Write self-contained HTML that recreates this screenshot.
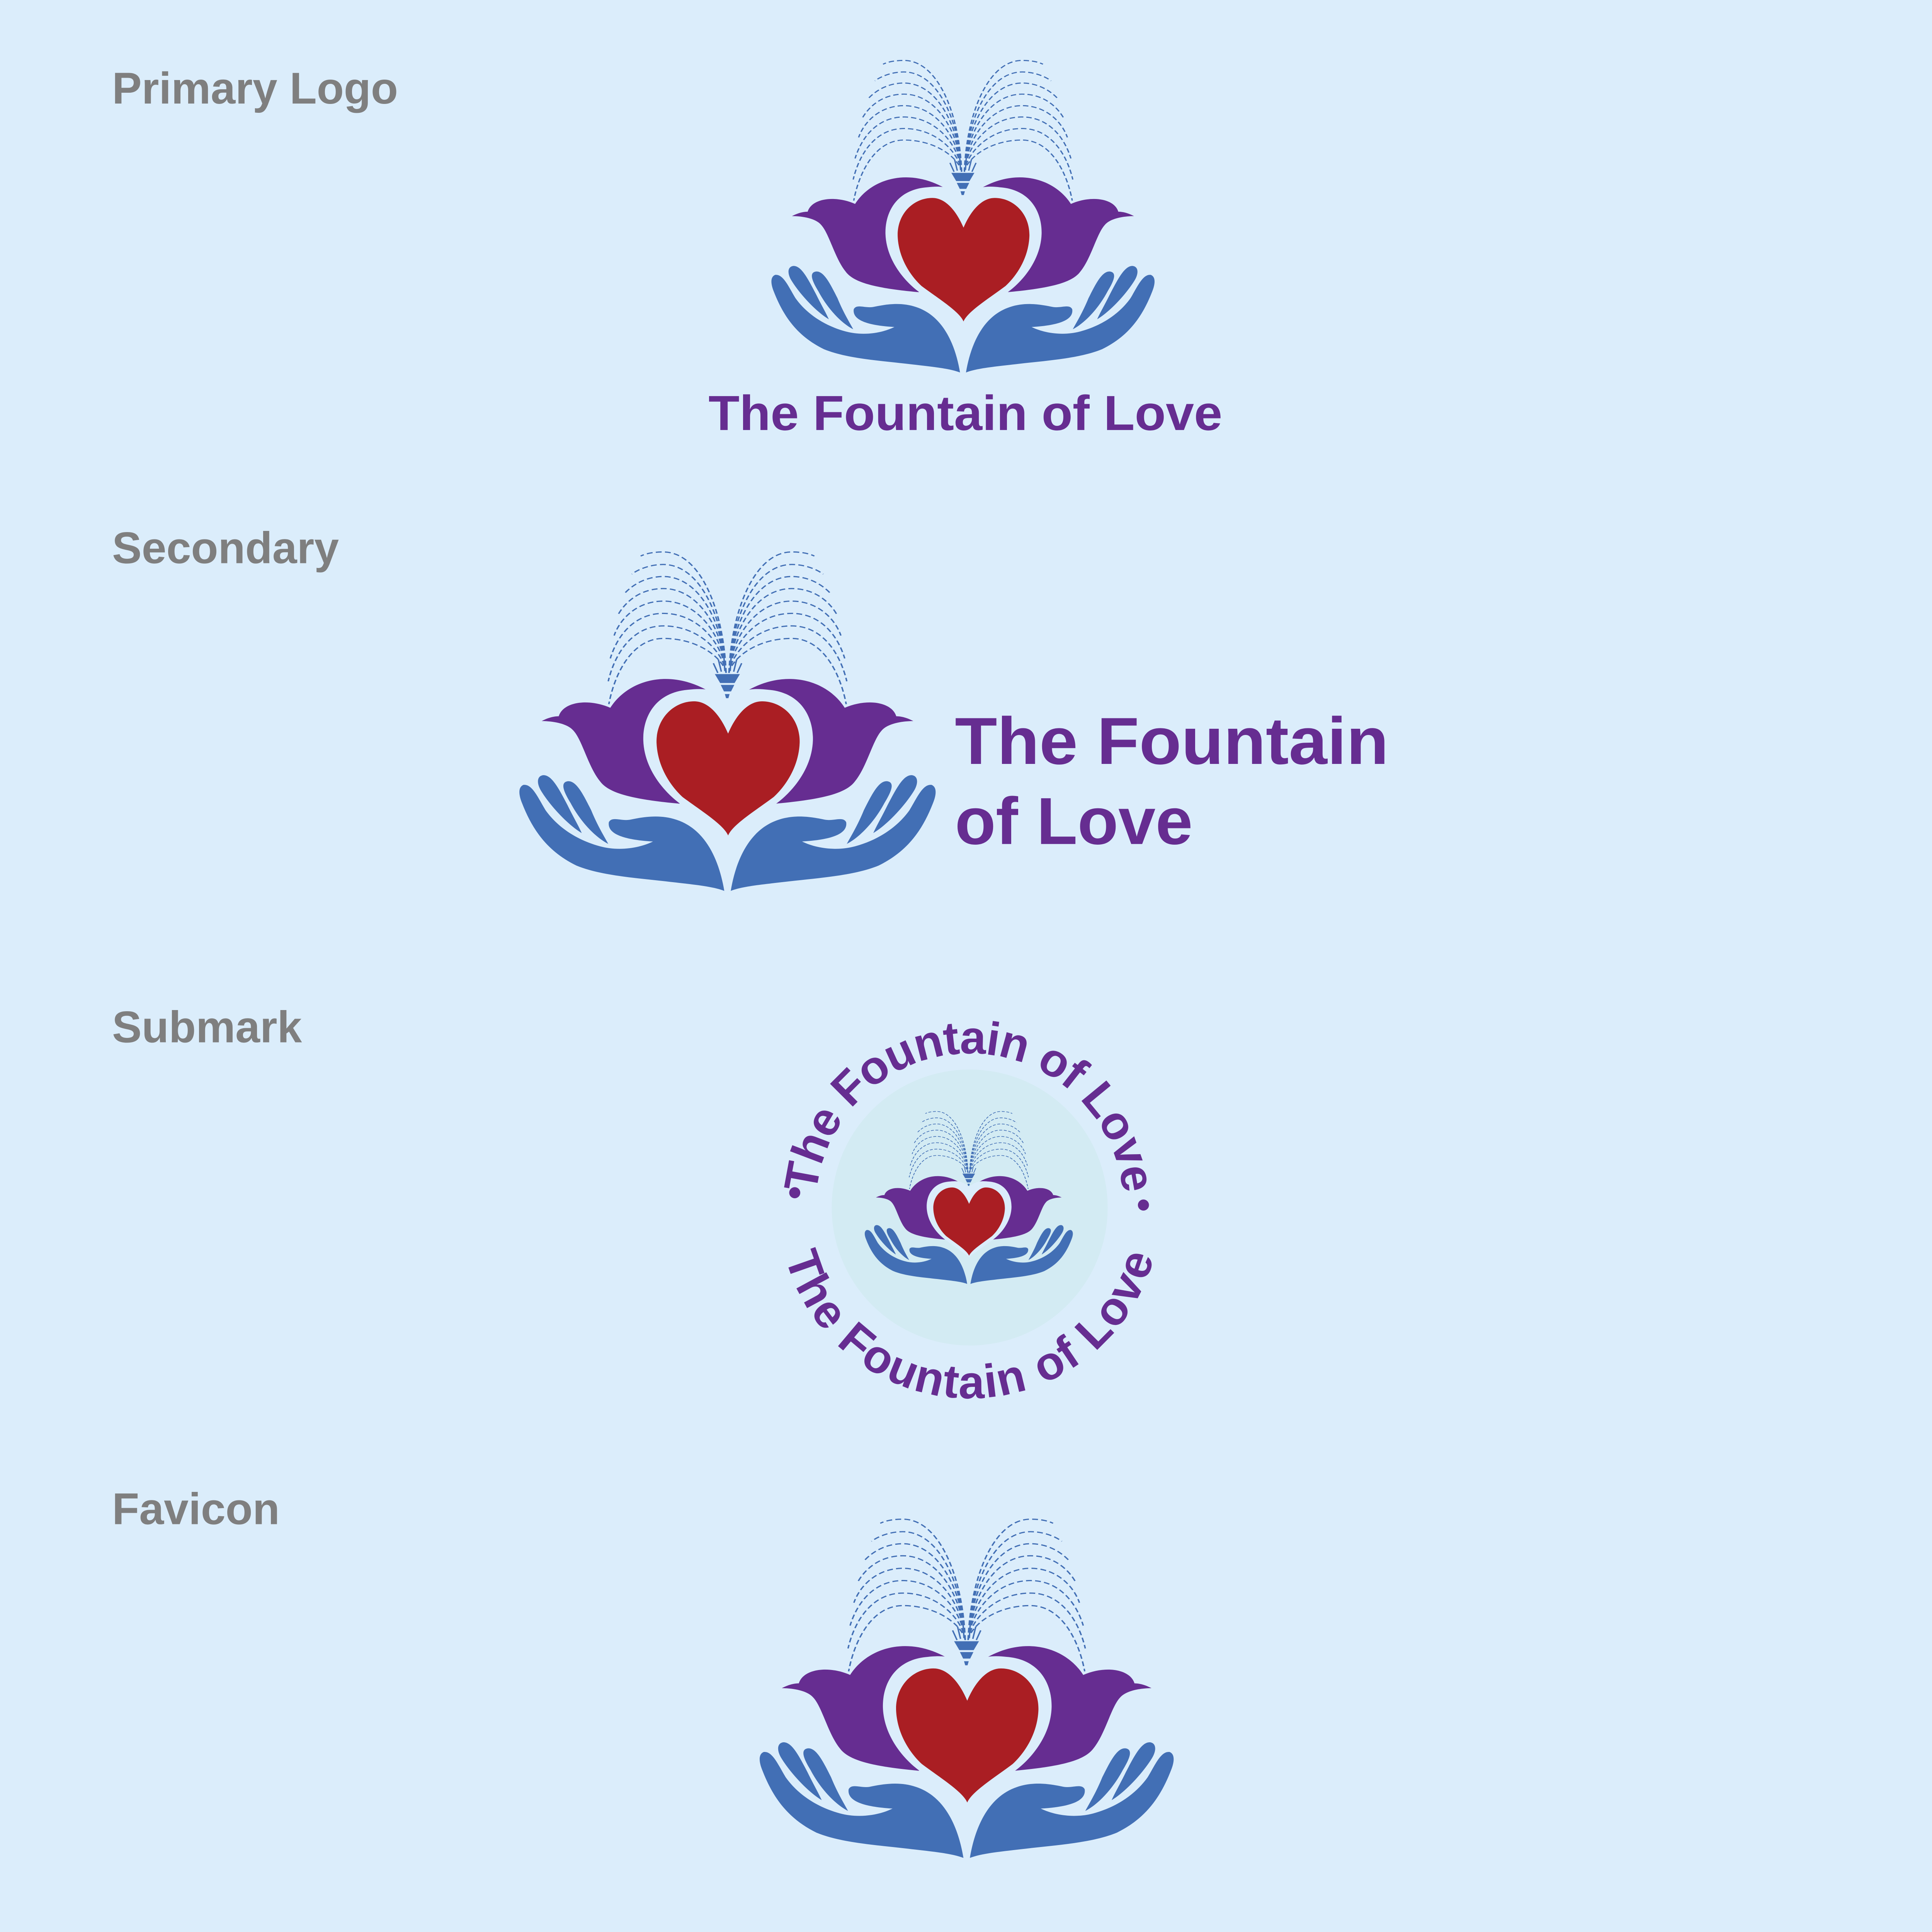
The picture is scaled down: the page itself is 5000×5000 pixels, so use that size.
<!DOCTYPE html>
<html><head><meta charset="utf-8"><style>
html,body{margin:0;padding:0;background:#dbedfb;}
svg{display:block;}
</style></head><body>
<svg xmlns="http://www.w3.org/2000/svg" width="5000" height="5000" viewBox="0 0 1568 1568">
<defs>
<g id="half">
  <g fill="none" stroke="#426fb5" stroke-width="5" stroke-dasharray="20 11">
    <path d="M768,600 C760,338 680,98 555,98 C520,98 495,105 478,115"/>
    <path d="M768,600 C760,370 680,150 555,150 C510,150 470,170 448,190"/>
    <path d="M768,600 C760,400 680,200 555,200 C500,200 455,230 425,268"/>
    <path d="M768,600 C760,430 680,250 555,250 C480,250 430,300 403,355"/>
    <path d="M768,600 C760,460 680,302 555,302 C470,302 410,370 388,445"/>
    <path d="M768,600 C760,490 680,353 555,353 C460,353 400,440 375,540"/>
    <path d="M768,600 C760,520 680,405 555,405 C450,405 390,520 368,635"/>
    <path d="M768,600 C760,545 680,457 555,457 C450,457 390,600 370,730"/>
  </g>
  <path fill="#662d91" d="M142,800 C170,782 190,780 200,780 C215,720 300,705 375,745 C440,620 600,570 748,708 L720,900 L610,1143 C450,1125 370,1100 340,1050 C300,990 280,880 250,840 C230,810 180,800 142,800 Z"/>
  <path fill="#426fb5" d="M762,1505 C745,1380 700,1250 600,1210 C540,1185 480,1200 440,1210 C410,1215 380,1195 370,1220 C365,1262 405,1292 520,1300 C470,1330 400,1340 340,1320 C250,1290 190,1230 155,1170 C130,1120 110,1060 80,1065 C60,1075 65,1110 75,1140 C110,1250 160,1340 260,1400 C340,1440 450,1450 560,1465 C650,1478 720,1485 762,1505 Z"/>
  <path fill="#426fb5" d="M145,1025 C175,1020 200,1080 230,1150 C250,1200 265,1230 278,1265 C230,1230 170,1150 140,1090 C125,1060 125,1030 145,1025 Z"/>
  <path fill="#426fb5" d="M230,1050 C260,1045 285,1110 310,1170 C330,1230 350,1270 368,1310 C320,1280 270,1210 240,1140 C215,1090 205,1055 230,1050 Z"/>
</g>
<g id="logo">
  <use href="#half"/>
  <use href="#half" transform="translate(1546,0) scale(-1,1)"/>
  <g fill="#426fb5">
    <path d="M730,605 L815,605 L797,642 L748,642 Z"/>
    <path d="M750,650 L796,650 L785,677 L761,677 Z"/>
    <path d="M764,688 L780,688 L776,705 L768,705 Z"/>
    <g stroke="#426fb5" stroke-width="5"><path d="M740,600 L725,560 M752,595 L742,545 M764,592 L760,520 M782,592 L786,520 M794,595 L804,545 M806,600 L821,560"/></g>
  </g>
  <path fill="#dbedfb" d="M775,715 C730,660 680,665 640,670 C530,680 485,780 487,880 C490,1000 560,1100 620,1150 L775,1285 L930,1150 C990,1100 1060,1000 1063,880 C1065,780 1020,680 910,670 C870,665 820,660 775,715 Z"/>
  <path fill="#aa1e23" d="M775,852 C750,780 710,718 660,718 C590,718 530,790 532,890 C535,990 580,1070 620,1115 C680,1170 760,1230 775,1275 C790,1230 870,1170 930,1115 C970,1070 1015,990 1018,890 C1020,790 960,718 890,718 C840,718 800,780 775,852 Z"/>
</g>
<path id="topArc" d="M684.6,1051.7 A125 125 0 1 1 889.4,1051.7"/>
<path id="botArc" d="M660,891 A155 155 0 1 0 914,891"/>
</defs>
<rect width="1568" height="1568" fill="#dbedfb"/>
<g font-family="Liberation Sans, sans-serif" font-weight="bold" fill="#7f7f7f" font-size="36">
  <text x="91" y="84">Primary Logo</text>
  <text x="91" y="457">Secondary</text>
  <text x="91" y="846">Submark</text>
  <text x="91" y="1237">Favicon</text>
</g>
<use href="#logo" transform="translate(611.5,31.4) scale(0.22,0.18)"/>
<text x="575" y="349" font-family="Liberation Sans, sans-serif" font-weight="bold" font-size="40" fill="#662d91" textLength="417" lengthAdjust="spacingAndGlyphs">The Fountain of Love</text>
<use href="#logo" transform="translate(405.7,428.8) scale(0.239,0.1955)"/>
<g font-family="Liberation Sans, sans-serif" font-weight="bold" font-size="54" fill="#662d91">
  <text x="775" y="620" textLength="352" lengthAdjust="spacingAndGlyphs">The Fountain</text>
  <text x="775" y="685" textLength="193" lengthAdjust="spacingAndGlyphs">of Love</text>
</g>
<circle cx="787" cy="980" r="112" fill="#d3ebf3"/>
<use href="#logo" transform="translate(693.9,892.3) scale(0.1195,0.0995)"/>
<g font-family="Liberation Sans, sans-serif" font-weight="bold" font-size="38" fill="#662d91">
  <text><textPath href="#topArc" startOffset="50%" text-anchor="middle" textLength="370" lengthAdjust="spacing">The Fountain of Love</textPath></text>
  <text><textPath href="#botArc" startOffset="50%" text-anchor="middle" textLength="405" lengthAdjust="spacing">The Fountain of Love</textPath></text>
</g>
<circle cx="645" cy="968" r="4.5" fill="#662d91"/>
<circle cx="928" cy="978" r="4.5" fill="#662d91"/>
<use href="#logo" transform="translate(600.8,1213.8) scale(0.2377,0.1954)"/>
</svg>
</body></html>
